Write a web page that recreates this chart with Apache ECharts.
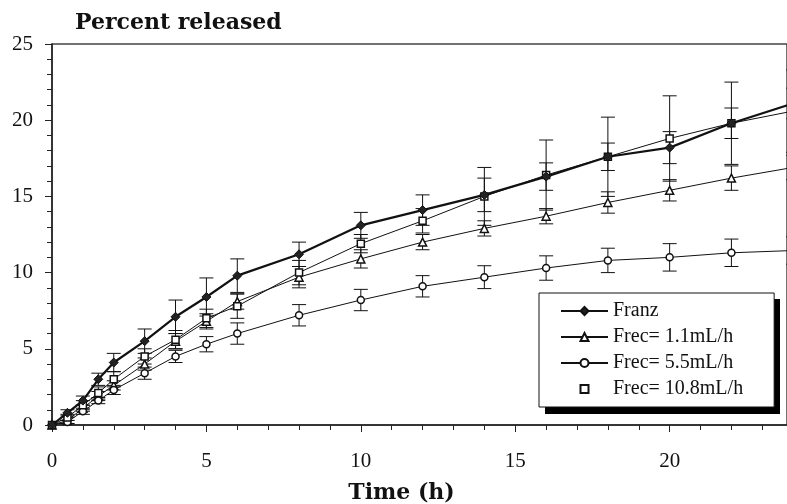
<!DOCTYPE html>
<html>
<head>
<meta charset="utf-8">
<script src="https://cdn.jsdelivr.net/npm/echarts@6/dist/echarts.min.js"></script>
<style>
html,body{margin:0;padding:0;background:#fff;}
#chart{width:787px;height:504px;}
</style>
</head>
<body>
<div id="chart"></div>
<script>
// Sampling times (h)
var times = [0, 0.5, 1, 1.5, 2, 3, 4, 5, 6, 8, 10, 12, 14, 16, 18, 20, 22, 24];

// Percent released, mean values
var franz   = [0, 0.8, 1.6, 3.0, 4.1, 5.5, 7.1, 8.4, 9.8, 11.2, 13.1, 14.1, 15.1, 16.3, 17.6, 18.2, 19.8, 21.1];
var frec11  = [0, 0.3, 1.1, 1.9, 2.6, 4.0, 5.5, 6.8, 8.1, 9.7, 10.9, 12.0, 12.9, 13.7, 14.6, 15.4, 16.2, 16.9];
var frec55  = [0, 0.2, 0.9, 1.6, 2.3, 3.4, 4.5, 5.3, 6.0, 7.2, 8.2, 9.1, 9.7, 10.3, 10.8, 11.0, 11.3, 11.45];
var frec108 = [0, 0.5, 1.3, 2.1, 3.0, 4.5, 5.6, 7.0, 7.8, 10.0, 11.9, 13.4, 15.0, 16.4, 17.6, 18.8, 19.8, 20.6];

// Error bar half-widths (SD)
var franzErr   = [0, 0.2, 0.3, 0.4, 0.6, 0.8, 1.1, 1.25, 1.1, 0.8, 0.85, 1.0, 1.1, 0.9, 0.9, 1.05, 1.0, 1.0];
var frec11Err  = [0, 0.2, 0.2, 0.3, 0.3, 0.4, 0.5, 0.5, 0.5, 0.7, 0.6, 0.5, 0.5, 0.5, 0.7, 0.7, 0.8, 0.8];
var frec55Err  = [0, 0.1, 0.2, 0.2, 0.3, 0.4, 0.4, 0.5, 0.7, 0.7, 0.7, 0.7, 0.75, 0.8, 0.8, 0.9, 0.9, 0.9];
var frec108Err = [0, 0.2, 0.3, 0.4, 0.5, 0.5, 0.6, 0.6, 0.8, 0.8, 0.6, 0.8, 1.9, 2.3, 2.6, 2.8, 2.7, 2.7];

var seriesNames = ['Franz', 'Frec= 1.1mL/h', 'Frec= 5.5mL/h', 'Frec= 10.8mL/h'];
var xTicks = [0, 5, 10, 15, 20];
var yTicks = [0, 5, 10, 15, 20, 25];
var xMax = 23.8;

function pairs(vals) {
  return times.map(function (t, i) { return [t, vals[i]]; });
}
function errData(vals, errs) {
  var out = [];
  times.forEach(function (t, i) {
    if (errs[i] > 0) out.push([t, vals[i] - errs[i], vals[i] + errs[i]]);
  });
  return out;
}
function errSeries(vals, errs) {
  return {
    type: 'custom',
    xAxisIndex: 0, yAxisIndex: 0,
    silent: true,
    clip: true,
    z: 1,
    data: errData(vals, errs),
    renderItem: function (params, api) {
      var x = api.value(0), lo = api.value(1), hi = api.value(2);
      var p1 = api.coord([x, lo]), p2 = api.coord([x, hi]);
      var hw = 7;
      var st = { stroke: '#111', lineWidth: 1 };
      return {
        type: 'group',
        children: [
          { type: 'line', shape: { x1: p1[0], y1: p1[1], x2: p2[0], y2: p2[1] }, style: st },
          { type: 'line', shape: { x1: p1[0] - hw, y1: p1[1], x2: p1[0] + hw, y2: p1[1] }, style: st },
          { type: 'line', shape: { x1: p2[0] - hw, y1: p2[1], x2: p2[0] + hw, y2: p2[1] }, style: st }
        ]
      };
    }
  };
}

var serif = "'Liberation Serif', 'Times New Roman', serif";
var titleFont = "'DejaVu Serif', 'Liberation Serif', serif";

var chart = echarts.init(document.getElementById('chart'), null, { renderer: 'canvas' });

var axisCommon = {
  type: 'value',
  interval: 5,
  axisLine: { show: true, lineStyle: { color: '#222', width: 1.5 } },
  splitLine: { show: false }
};

var option = {
  animation: false,
  backgroundColor: '#fff',
  title: {
    text: 'Percent released',
    left: 75,
    top: 12,
    padding: 0,
    textStyle: { fontFamily: titleFont, fontWeight: 'bold', fontSize: 22, color: '#111' }
  },
  grid: {
    left: 52, right: 0, top: 44, bottom: 79,
    outerBoundsMode: 'none',
    containLabel: false,
    show: true, borderColor: '#444', borderWidth: 1.5, backgroundColor: 'transparent'
  },
  graphic: [
    { type: 'rect', z: 0, shape: { x: 545, y: 299, width: 235, height: 115 }, style: { fill: '#000' } }
  ],
  legend: {
    orient: 'vertical',
    left: 539, top: 293,
    padding: [8, 31, 8, 21],
    itemGap: 6,
    itemWidth: 47,
    itemHeight: 10,
    selectedMode: false,
    backgroundColor: '#fff',
    borderColor: '#111',
    borderWidth: 1,
    textStyle: { fontFamily: serif, fontSize: 20, color: '#111' },
    data: [
      { name: seriesNames[0] },
      { name: seriesNames[1] },
      { name: seriesNames[2] },
      { name: seriesNames[3], lineStyle: { width: 0, color: 'rgba(0,0,0,0)' } }
    ]
  },
  xAxis: [
    Object.assign({}, axisCommon, {
      min: 0, max: xMax,
      axisTick: { show: true, inside: false, length: 7, lineStyle: { color: '#222' } },
      minorTick: { show: true, splitNumber: 5, length: 5, lineStyle: { color: '#222' } },
      axisLabel: {
        margin: 26,
        fontFamily: serif, fontSize: 21, color: '#111',
        formatter: function (v) { return xTicks.indexOf(v) >= 0 ? String(v) : ''; }
      },
      name: 'Time (h)',
      nameLocation: 'middle',
      nameGap: 57,
      nameTextStyle: { fontFamily: titleFont, fontWeight: 'bold', fontSize: 22, color: '#111', padding: [0, 36, 0, 0] }
    }),
    Object.assign({}, axisCommon, {
      min: 0, max: xMax,
      axisLine: { show: false },
      axisTick: { show: true, inside: true, length: 7, lineStyle: { color: '#222' } },
      axisLabel: { show: false }
    })
  ],
  yAxis: [
    Object.assign({}, axisCommon, {
      min: 0, max: 25,
      axisTick: { show: true, inside: false, length: 7, lineStyle: { color: '#222' } },
      minorTick: { show: true, splitNumber: 5, length: 5, lineStyle: { color: '#222' } },
      axisLabel: {
        margin: 19,
        fontFamily: serif, fontSize: 21, color: '#111',
        formatter: function (v) { return yTicks.indexOf(v) >= 0 ? String(v) : ''; }
      }
    }),
    Object.assign({}, axisCommon, {
      min: 0, max: 25,
      axisLine: { show: false },
      axisTick: { show: true, inside: true, length: 7, lineStyle: { color: '#222' } },
      axisLabel: { show: false }
    })
  ],
  series: [
    errSeries(franz, franzErr),
    errSeries(frec11, frec11Err),
    errSeries(frec55, frec55Err),
    errSeries(frec108, frec108Err),
    {
      name: seriesNames[0], type: 'line', data: pairs(franz), z: 5,
      symbol: 'diamond', symbolSize: 9, showSymbol: true, clip: true,
      lineStyle: { color: '#111', width: 2.2 },
      itemStyle: { color: '#222', borderColor: '#111', borderWidth: 1 }
    },
    {
      name: seriesNames[1], type: 'line', data: pairs(frec11), z: 4,
      symbol: 'triangle', symbolSize: 8, showSymbol: true, clip: true,
      lineStyle: { color: '#111', width: 1 },
      itemStyle: { color: '#fff', borderColor: '#111', borderWidth: 1.5 }
    },
    {
      name: seriesNames[2], type: 'line', data: pairs(frec55), z: 4,
      symbol: 'circle', symbolSize: 7, showSymbol: true, clip: true,
      lineStyle: { color: '#111', width: 1 },
      itemStyle: { color: '#fff', borderColor: '#111', borderWidth: 1.5 }
    },
    {
      name: seriesNames[3], type: 'line', data: pairs(frec108), z: 4,
      symbol: 'rect', symbolSize: 7, showSymbol: true, clip: true,
      lineStyle: { color: '#111', width: 1 },
      itemStyle: { color: '#fff', borderColor: '#111', borderWidth: 1.5 }
    }
  ]
};

chart.setOption(option);
</script>
</body>
</html>
